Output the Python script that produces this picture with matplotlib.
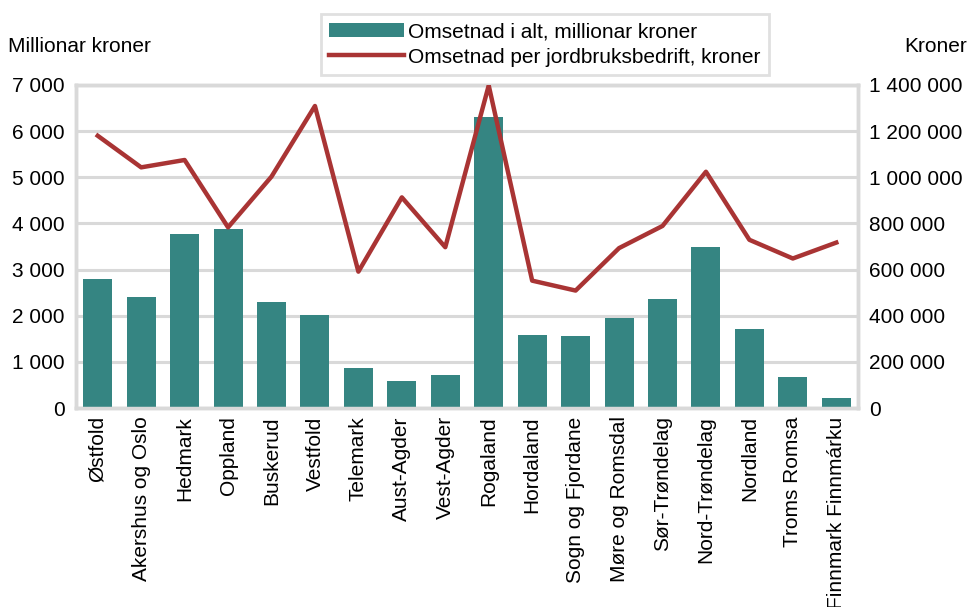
import numpy as np
import matplotlib
matplotlib.use("Agg")
import matplotlib.pyplot as plt
from matplotlib.ticker import FuncFormatter

plt.rcParams['font.family'] = ['Liberation Sans', 'DejaVu Sans']

fylke = ["Østfold", "Akershus og Oslo", "Hedmark", "Oppland", "Buskerud", "Vestfold",
         "Telemark", "Aust-Agder", "Vest-Agder", "Rogaland", "Hordaland",
         "Sogn og Fjordane", "Møre og Romsdal", "Sør-Trøndelag", "Nord-Trøndelag",
         "Nordland", "Troms Romsa", "Finnmark Finnmárku"]
omsetnad_alt = [2800, 2400, 3780, 3870, 2290, 2020, 870, 590, 720, 6300, 1580,
                1550, 1950, 2360, 3500, 1710, 680, 210]
omsetnad_per_bedrift = [1180000, 1043000, 1075000, 783000, 1003000, 1309000, 591000,
                        913000, 697000, 1398000, 552000, 509000, 693000, 789000,
                        1024000, 729000, 648000, 717000]

teal = '#358582'
red = '#a93434'
grey = '#d9d9d9'
fs = 15

def space_fmt(v, pos):
	return "{:,.0f}".format(v).replace(",", " ")

fig = plt.figure(figsize=(9.72, 6.07), dpi=100)
ax = fig.add_axes([76/972, 1-408/607, (858-76)/972, (408-85)/607])
ax2 = ax.twinx()

x = np.arange(len(fylke))
b = ax.bar(x, omsetnad_alt, width=0.67, color=teal, zorder=3, label="Omsetnad i alt, millionar kroner")
l, = ax2.plot(x, omsetnad_per_bedrift, color=red, lw=3.2, zorder=4,
              label="Omsetnad per jordbruksbedrift, kroner")

ax.set_xlim(-0.5, len(fylke)-0.5)
ax.set_ylim(0, 7000)
ax.set_yticks(np.arange(0, 7001, 1000))
ax2.set_ylim(0, 1400000)
ax2.set_yticks(np.arange(0, 1400001, 200000))
ax.yaxis.set_major_formatter(FuncFormatter(space_fmt))
ax2.yaxis.set_major_formatter(FuncFormatter(space_fmt))

ax.grid(axis='y', color=grey, lw=2.2, zorder=0)
ax.set_axisbelow(True)
for a in (ax, ax2):
	for s in a.spines.values():
		s.set_color(grey)
		s.set_linewidth(2.5)
	a.tick_params(length=0, labelsize=fs, pad=8)
ax2.set_zorder(ax.get_zorder()+1)
ax2.patch.set_visible(False)

ax.set_xticks(x)
ax.set_xticklabels(fylke, rotation=90, fontsize=fs)
ax.tick_params(axis='x', pad=6)

fig.text(8/972, 1-46/607, "Millionar kroner", fontsize=fs, va='center', ha='left')
fig.text(967/972, 1-46/607, "Kroner", fontsize=fs, va='center', ha='right')

leg = fig.legend([b, l], [b.get_label(), l.get_label()], loc='upper center',
                 bbox_to_anchor=(545/972, 1-14/607), fontsize=fs, frameon=True,
                 fancybox=False, handlelength=3.6, handletextpad=0.2,
                 borderpad=0.4, labelspacing=0.3, borderaxespad=0)
leg.get_frame().set_edgecolor(grey)
leg.get_frame().set_linewidth(2)

plt.savefig("out.png", dpi=100)
